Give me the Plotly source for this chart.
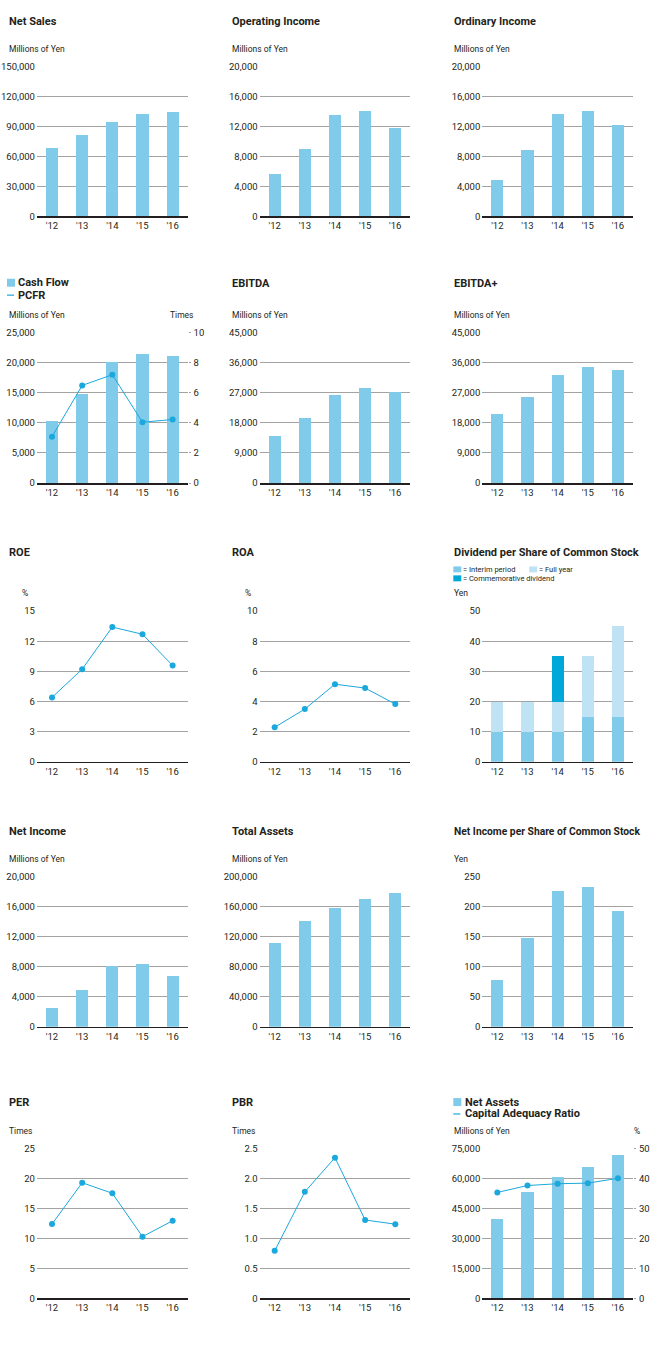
import plotly.graph_objects as go

W, H = 650, 1360
years = ["'12", "'13", "'14", "'15", "'16"]

net_sales = [68800, 81500, 94400, 102300, 104000]
operating_income = [5700, 9000, 13500, 14100, 11850]
ordinary_income = [4850, 8900, 13600, 14000, 12200]
cash_flow = [10300, 14700, 20000, 21400, 21000]
pcfr = [3.08, 6.48, 7.19, 4.04, 4.22]
ebitda = [14100, 19400, 26200, 28500, 27300]
ebitda_plus = [20600, 25800, 32200, 34600, 33800]
roe = [6.41, 9.22, 13.41, 12.69, 9.58]
roa = [2.29, 3.50, 5.15, 4.89, 3.83]
div_interim = [10, 10, 10, 15, 15]
div_full = [10, 10, 10, 20, 30]
div_commem = [0, 0, 15, 0, 0]
net_income = [2550, 4900, 8150, 8330, 6780]
total_assets = [112300, 141400, 158100, 170500, 178400]
ni_per_share = [77.6, 148.1, 226.3, 232.4, 193.3]
per = [12.42, 19.32, 17.55, 10.32, 12.97]
pbr = [0.795, 1.78, 2.35, 1.31, 1.24]
net_assets = [39700, 53100, 60900, 65900, 71700]
car = [35.4, 37.7, 38.3, 38.5, 40.1]

ticks_150k = [0, 30000, 60000, 90000, 120000, 150000]
ticks_20k = [0, 4000, 8000, 12000, 16000, 20000]
ticks_25k = [0, 5000, 10000, 15000, 20000, 25000]
ticks_10 = [0, 2, 4, 6, 8, 10]
ticks_45k = [0, 9000, 18000, 27000, 36000, 45000]
ticks_15 = [0, 3, 6, 9, 12, 15]
ticks_50 = [0, 10, 20, 30, 40, 50]
ticks_200k = [0, 40000, 80000, 120000, 160000, 200000]
ticks_250 = [0, 50, 100, 150, 200, 250]
ticks_25 = [0, 5, 10, 15, 20, 25]
ticks_pbr = [0, 0.5, 1.0, 1.5, 2.0, 2.5]
ticks_pbr_text = ["0", "0.5", "1.0", "1.5", "2.0", "2.5"]
ticks_75k = [0, 15000, 30000, 45000, 60000, 75000]

BAR = "#80cbea"
BAR_LIGHT = "#bfe3f4"
BAR_DARK = "#00a8d9"
LINE = "#1ba8dc"
TXT = "#231f20"
GRID = "#a3a3a3"
FONT = "Roboto, sans-serif"
TICK = 9.5

cols = [(37, 188), (260, 411), (483, 634)]
rows = [(61, 212), (329, 481), (610, 762), (878, 1029), (1152, 1303)]
title_x = [7, 230, 453]

fig = go.Figure()
layout = {}
annotations = []
shapes = []


def ann(x, y, text, size=10, xanchor="left", yanchor="middle", bold=False):
    annotations.append(dict(
        x=x / W, y=1 - y / H, xref="paper", yref="paper",
        text=("<b>%s</b>" % text) if bold else text, showarrow=False,
        xanchor=xanchor, yanchor=yanchor,
        font=dict(family=FONT, size=size, color=TXT)))


def fmt(v):
    if isinstance(v, float) and not v.is_integer():
        return str(v)
    return "{:,}".format(int(v))


def setup(idx, r, c, tickvals, ticktext=None):
    x0, x1 = cols[c]
    y0, y1 = rows[r]
    if ticktext is None:
        ticktext = [fmt(v) for v in tickvals]
    layout["xaxis%d" % idx] = dict(
        domain=[x0 / W, x1 / W], anchor="y%d" % idx, type="category",
        range=[-0.5, 4.5], showgrid=False, showline=True, linecolor=TXT,
        linewidth=1.5, ticks="", tickfont=dict(family=FONT, size=TICK, color=TXT),
        fixedrange=True)
    layout["yaxis%d" % idx] = dict(
        domain=[1 - y1 / H, 1 - y0 / H], anchor="x%d" % idx,
        range=[0, tickvals[-1]], tickvals=tickvals, ticktext=ticktext,
        showgrid=True, gridcolor=GRID, gridwidth=1, zeroline=False,
        showline=False, ticks="", tickfont=dict(family=FONT, size=TICK, color=TXT),
        ticklabelstandoff=1, fixedrange=True)


def bar(idx, vals, color=BAR, name=""):
    fig.add_trace(go.Bar(x=years, y=vals, xaxis="x%d" % idx, yaxis="y%d" % idx,
                         marker=dict(color=color, line=dict(width=0)), width=0.4,
                         name=name, showlegend=False))


def line(idx, vals, yaxis=None):
    fig.add_trace(go.Scatter(x=years, y=vals, xaxis="x%d" % idx,
                             yaxis=yaxis or "y%d" % idx, mode="lines+markers",
                             line=dict(color=LINE, width=1),
                             marker=dict(color=LINE, size=6), showlegend=False))


charts = [
    (1, 0, 0, "Net Sales", "Millions of Yen", ticks_150k),
    (2, 0, 1, "Operating Income", "Millions of Yen", ticks_20k),
    (3, 0, 2, "Ordinary Income", "Millions of Yen", ticks_20k),
    (4, 1, 0, None, "Millions of Yen", ticks_25k),
    (5, 1, 1, "EBITDA", "Millions of Yen", ticks_45k),
    (6, 1, 2, "EBITDA+", "Millions of Yen", ticks_45k),
    (7, 2, 0, "ROE", "%", ticks_15),
    (8, 2, 1, "ROA", "%", [0, 2, 4, 6, 8, 10]),
    (9, 2, 2, "Dividend per Share of Common Stock", "Yen", ticks_50),
    (10, 3, 0, "Net Income", "Millions of Yen", ticks_20k),
    (11, 3, 1, "Total Assets", "Millions of Yen", ticks_200k),
    (12, 3, 2, "Net Income per Share of Common Stock", "Yen", ticks_250),
    (13, 4, 0, "PER", "Times", ticks_25),
    (14, 4, 1, "PBR", "Times", ticks_pbr),
    (15, 4, 2, None, "Millions of Yen", ticks_75k),
]

title_y = [16, 280, 551, 832, 1105]
unit_y = [43, 312, 592, 860, 1134]

for idx, r, c, title, unit, tv in charts:
    setup(idx, r, c, tv, ticks_pbr_text if idx == 14 else None)
    if title:
        ann(title_x[c], title_y[r], title, size=10.3 if idx == 12 else 11,
            bold=True)
    ux = title_x[c]
    if unit == "%" and c < 2:
        ux = title_x[c] + 13
    ann(ux, unit_y[r], unit, size=8.5)

bar(1, net_sales)
bar(2, operating_income)
bar(3, ordinary_income)
bar(4, cash_flow, name="Cash Flow")
bar(5, ebitda)
bar(6, ebitda_plus)
line(7, roe)
line(8, roa)
bar(9, div_interim, BAR, "Interim period")
bar(9, div_full, BAR_LIGHT, "Full year")
bar(9, div_commem, BAR_DARK, "Commemorative dividend")
bar(10, net_income)
bar(11, total_assets)
bar(12, ni_per_share)
line(13, per)
line(14, pbr)
bar(15, net_assets, name="Net Assets")

# secondary axes
for sec, base, tv in [(16, 4, ticks_10), (17, 15, ticks_50)]:
    layout["yaxis%d" % sec] = dict(
        overlaying="y%d" % base, side="right", anchor="x%d" % base,
        range=[0, tv[-1]], tickvals=tv, ticktext=[fmt(v) for v in tv],
        showgrid=False, zeroline=False, showline=False, ticks="outside",
        ticklen=2, tickcolor=GRID, ticklabelstandoff=1,
        tickfont=dict(family=FONT, size=TICK, color=TXT), fixedrange=True)
line(4, pcfr, yaxis="y16")
line(15, car, yaxis="y17")

# right-hand units
ann(196, unit_y[1], "Times", size=8.5, xanchor="right")
ann(643, unit_y[4], "%", size=8.5, xanchor="right")


def square(x0, y0, x1, y1, color):
    shapes.append(dict(type="rect", xref="paper", yref="paper",
                       x0=x0 / W, x1=x1 / W, y0=1 - y1 / H, y1=1 - y0 / H,
                       fillcolor=color, line=dict(width=0)))


def seg(x0, x1, y, color):
    shapes.append(dict(type="line", xref="paper", yref="paper",
                       x0=x0 / W, x1=x1 / W, y0=1 - y / H, y1=1 - y / H,
                       line=dict(color=color, width=1.2)))


# Cash Flow / PCFR legend
square(7, 275, 15, 283, BAR)
ann(16.5, 279, "Cash Flow", size=11, bold=True)
seg(7, 14, 291.5, LINE)
ann(16.5, 291.5, "PCFR", size=11, bold=True)

# Net Assets / CAR legend
square(454, 1101, 462, 1109, BAR)
ann(463.5, 1105, "Net Assets", size=11, bold=True)
seg(454, 461, 1117, LINE)
ann(463.5, 1117, "Capital Adequacy Ratio", size=11, bold=True)

# Dividend legend
square(454, 565, 462, 571, BAR)
ann(462, 568, "= Interim period", size=7.5)
square(530, 565, 538, 571, BAR_LIGHT)
ann(538, 568, "= Full year", size=7.5)
square(454, 574, 462, 580, BAR_DARK)
ann(462, 577, "= Commemorative dividend", size=7.5)

fig.update_layout(**layout)
fig.update_layout(
    width=W, height=H, margin=dict(l=0, r=0, t=0, b=0),
    paper_bgcolor="white", plot_bgcolor="white", barmode="stack",
    showlegend=False, annotations=annotations, shapes=shapes,
    font=dict(family=FONT, color=TXT))

fig.write_html(
    "out.html",
    config={"displayModeBar": False, "staticPlot": True},
    post_script=(
        "document.documentElement.style.margin='0';"
        "document.body.style.margin='0';"
        "document.body.style.padding='0';"
        "document.body.style.overflow='hidden';"
        "var d=document.getElementById('{plot_id}');"
        "d.style.position='fixed';d.style.top='0px';d.style.left='0px';"))
